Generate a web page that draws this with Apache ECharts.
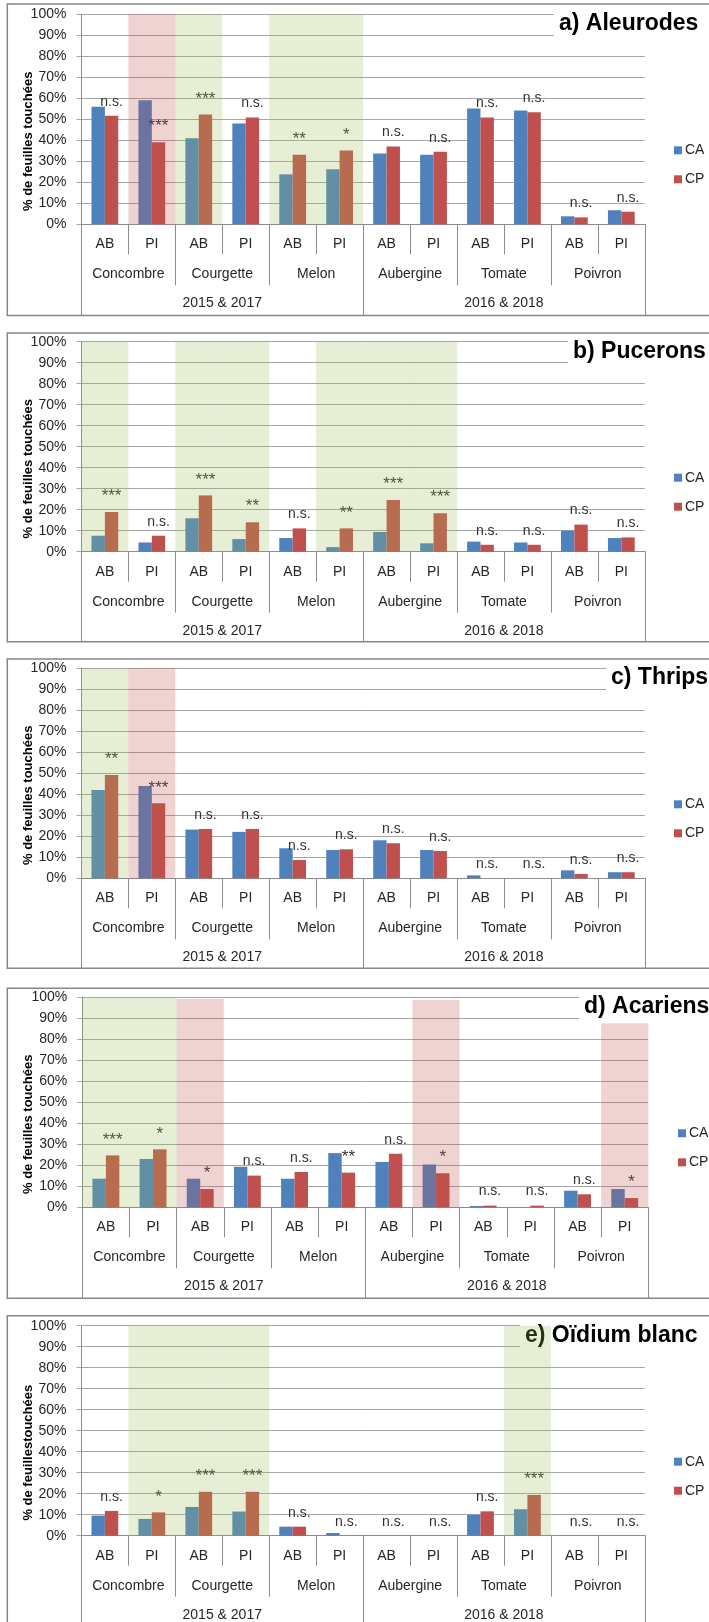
<!DOCTYPE html>
<html><head><meta charset="utf-8">
<script src="https://cdn.jsdelivr.net/npm/echarts@6/dist/echarts.min.js"></script>
<style>html,body{margin:0;padding:0;background:#fff}#c{width:709px;height:1622px}</style>
</head><body><div id="c"></div>
<script>
// ---------- data ----------
const categories = ['AB','PI','AB','PI','AB','PI','AB','PI','AB','PI','AB','PI'];
const crops = ['Concombre','Courgette','Melon','Aubergine','Tomate','Poivron'];
const yearGroups = ['2015 & 2017','2016 & 2018'];
const seriesNames = ['CA','CP'];
const yTickValues = [0,10,20,30,40,50,60,70,80,90,100];

const aleurodesCA = [56.0,59.1,41.0,48.0,23.8,26.2,33.7,33.1,55.2,54.2,3.8,6.7];
const aleurodesCP = [51.7,39.1,52.3,50.9,33.1,35.1,37.0,34.5,50.9,53.4,3.3,6.0];
const aleurodesSig = ['n.s.','***','***','n.s.','**','*','n.s.','n.s.','n.s.','n.s.','n.s.','n.s.'];
const aleurodesGreen = [null,null,100,null,100,100,null,null,null,null,null,null];
const aleurodesRed   = [null,100,null,null,null,null,null,null,null,null,null,null];

const puceronsCA = [7.6,4.4,15.9,6.0,6.5,2.2,9.4,4.0,4.8,4.4,10.0,6.5];
const puceronsCP = [18.9,7.6,26.8,14.0,11.1,11.1,24.6,18.3,3.3,3.3,12.9,6.8];
const puceronsSig = ['***','n.s.','***','**','n.s.','**','***','***','n.s.','n.s.','n.s.','n.s.'];
const puceronsGreen = [100,null,100,100,null,100,100,100,null,null,null,null];
const puceronsRed   = [null,null,null,null,null,null,null,null,null,null,null,null];

const thripsCA = [42.1,44.0,23.2,22.1,14.3,13.5,18.1,13.5,1.4,0,3.8,2.9];
const thripsCP = [49.2,35.7,23.5,23.5,8.7,13.8,16.7,13.0,0,0,2.1,2.9];
const thripsSig = ['**','***','n.s.','n.s.','n.s.','n.s.','n.s.','n.s.','n.s.','n.s.','n.s.','n.s.'];
const thripsGreen = [100,null,null,null,null,null,null,null,null,null,null,null];
const thripsRed   = [null,100,null,null,null,null,null,null,null,null,null,null];

const acariensCA = [13.6,23.0,13.6,19.3,13.6,25.8,21.6,20.4,0.6,0,7.9,8.7];
const acariensCP = [24.7,27.6,8.7,15.1,16.8,16.5,25.5,16.2,0.8,0.8,6.2,4.4];
const acariensSig = ['***','*','*','n.s.','n.s.','**','n.s.','*','n.s.','n.s.','n.s.','*'];
const acariensGreen = [100,100,null,null,null,null,null,null,null,null,null,null];
const acariensRed   = [null,null,99.2,null,null,null,null,98.7,null,null,null,87.6];

const oidiumCA = [9.6,8.0,13.7,11.5,4.3,1.3,0,0,10.0,12.6,0,0];
const oidiumCP = [11.8,11.1,20.9,20.9,4.3,0,0,0,11.6,19.4,0,0];
const oidiumSig = ['n.s.','*','***','***','n.s.','n.s.','n.s.','n.s.','n.s.','***','n.s.','n.s.'];
const oidiumGreen = [null,100,100,100,null,null,null,null,null,100,null,null];
const oidiumRed   = [null,null,null,null,null,null,null,null,null,null,null,null];

const panelTitles = ['a) Aleurodes','b) Pucerons','c) Thrips','d) Acariens','e) Oïdium blanc'];
const yAxisTitles = ['% de feuilles touchées','% de feuilles touchées','% de feuilles touchées','% de feuilles touchées','% de feuillestouchées'];

const panelData = [
  {ca: aleurodesCA, cp: aleurodesCP, sig: aleurodesSig, green: aleurodesGreen, red: aleurodesRed},
  {ca: puceronsCA, cp: puceronsCP, sig: puceronsSig, green: puceronsGreen, red: puceronsRed},
  {ca: thripsCA, cp: thripsCP, sig: thripsSig, green: thripsGreen, red: thripsRed},
  {ca: acariensCA, cp: acariensCP, sig: acariensSig, green: acariensGreen, red: acariensRed},
  {ca: oidiumCA, cp: oidiumCP, sig: oidiumSig, green: oidiumGreen, red: oidiumRed}
];

// ---------- layout ----------
const layout = [
  {top: 14.3,  left: 81.4, width: 563.4, frameTop: 4,     frameBottom: 315.5, titleLeft: 554, legendLeft: 669},
  {top: 341.7, left: 81.4, width: 563.4, frameTop: 333,   frameBottom: 641.7, titleLeft: 568, legendLeft: 669},
  {top: 668.3, left: 81.4, width: 563.4, frameTop: 659,   frameBottom: 968.3, titleLeft: 606, legendLeft: 669},
  {top: 997.3, left: 82.3, width: 566.0, frameTop: 988.3, frameBottom: 1298.3, titleLeft: 579, legendLeft: 673},
  {top: 1325.7,left: 81.4, width: 563.4, frameTop: 1315.7,frameBottom: 1640, titleLeft: 520, legendLeft: 669}
];
const PLOT_H = 210;
const FONT = '"Liberation Sans", Arial, sans-serif';
const TXT = '#262626';
const AX = '#8c8c8c';
const CA_COLOR = '#4f81bd', CP_COLOR = '#c0504d';
const GREEN_OVER = 'rgba(155,187,89,0.25)', RED_OVER = 'rgba(192,80,77,0.25)';

const grid = [], xAxis = [], yAxis = [], series = [], legend = [], title = [], graphic = [];

layout.forEach((L, p) => {
  const D = panelData[p];
  grid.push({left: L.left, top: L.top, width: L.width, height: PLOT_H, containLabel: false});
  const tickLen3 = Math.min(L.frameBottom, 1640) - (L.top + PLOT_H);
  xAxis.push({type: 'category', gridIndex: p, data: categories, position: 'bottom',
    axisLine: {show: true, lineStyle: {color: AX, width: 1}},
    axisTick: {show: true, interval: 0, length: 30, lineStyle: {color: AX}},
    axisLabel: {interval: 0, margin: 13, fontSize: 14, color: TXT, fontFamily: FONT},
    splitLine: {show: false}});
  xAxis.push({type: 'category', gridIndex: p, data: crops, position: 'bottom',
    axisLine: {show: false},
    axisTick: {show: true, interval: 0, length: 61, lineStyle: {color: AX}},
    axisLabel: {interval: 0, margin: 43, fontSize: 14, color: TXT, fontFamily: FONT},
    splitLine: {show: false}});
  xAxis.push({type: 'category', gridIndex: p, data: yearGroups, position: 'bottom',
    axisLine: {show: false},
    axisTick: {show: true, interval: 0, length: tickLen3, lineStyle: {color: AX}},
    axisLabel: {interval: 0, margin: 72, fontSize: 14, color: TXT, fontFamily: FONT},
    splitLine: {show: false}});
  xAxis.push({type: 'category', gridIndex: p, data: categories, show: false});
  xAxis.push({type: 'category', gridIndex: p, data: categories, show: false});

  yAxis.push({type: 'value', gridIndex: p, min: 0, max: 100, interval: 10,
    axisLine: {show: true, lineStyle: {color: AX}},
    axisTick: {show: true, length: 5, lineStyle: {color: '#a6a6a6'}},
    axisLabel: {margin: 15, fontSize: 14, color: TXT, fontFamily: FONT, formatter: v => v + '%'},
    splitLine: {show: true, lineStyle: {color: '#a6a6a6', width: 1}}});

  const xb = p * 5;
  series.push({name: seriesNames[0], type: 'bar', xAxisIndex: xb, yAxisIndex: p, data: D.ca,
    barWidth: '28.5%', barGap: '0%', itemStyle: {color: CA_COLOR}, z: 2, silent: true});
  series.push({name: seriesNames[1], type: 'bar', xAxisIndex: xb, yAxisIndex: p, data: D.cp,
    barWidth: '28.5%', barGap: '0%', itemStyle: {color: CP_COLOR}, z: 2, silent: true,
    label: {show: true, position: 'top', distance: 7, fontSize: 14, color: '#333', fontFamily: FONT,
      formatter: prm => {
        const s = D.sig[prm.dataIndex];
        return s.indexOf('*') === 0 ? '{ast|' + s + '}' : s;
      },
      rich: {ast: {fontSize: 17, color: '#333', fontFamily: FONT, padding: [0, 0, 0, 0]}}}});
  series.push({name: 'bandGreen' + p, type: 'bar', xAxisIndex: xb + 3, yAxisIndex: p, data: D.green,
    barWidth: '100%', itemStyle: {color: GREEN_OVER}, z: 3, silent: true});
  series.push({name: 'bandRed' + p, type: 'bar', xAxisIndex: xb + 4, yAxisIndex: p, data: D.red,
    barWidth: '100%', itemStyle: {color: RED_OVER}, z: 3, silent: true});

  legend.push({data: seriesNames, orient: 'vertical', left: L.legendLeft, top: L.top + PLOT_H - 79 - 7,
    itemWidth: 8, itemHeight: 8, itemGap: 15, icon: 'rect', selectedMode: false,
    textStyle: {fontSize: 14, color: TXT, fontFamily: FONT, padding: [0, 0, 0, -2]}});

  title.push({text: panelTitles[p], left: L.titleLeft, top: L.top - 5,
    padding: [3, 6, 3, 5], backgroundColor: '#ffffff', z: 1,
    textStyle: {fontSize: 23, fontWeight: 'bold', color: '#000', fontFamily: FONT}});

  graphic.push({type: 'rect', shape: {x: 7.3, y: L.frameTop, width: 760, height: L.frameBottom - L.frameTop},
    style: {fill: 'none', stroke: '#868686', lineWidth: 1.5}, z: 10, silent: true});
  graphic.push({type: 'text', x: 28.5, y: L.top + PLOT_H / 2 + 22, rotation: Math.PI / 2,
    style: {text: yAxisTitles[p], fontSize: 13, fontWeight: 'bold', fontFamily: FONT, fill: '#000',
      align: 'center', verticalAlign: 'middle', textAlign: 'center', textVerticalAlign: 'middle'}, silent: true});
});

const chart = echarts.init(document.getElementById('c'), null, {renderer: 'canvas'});
chart.setOption({animation: false, backgroundColor: '#fff', grid, xAxis, yAxis, series, legend, title, graphic});
</script></body></html>
